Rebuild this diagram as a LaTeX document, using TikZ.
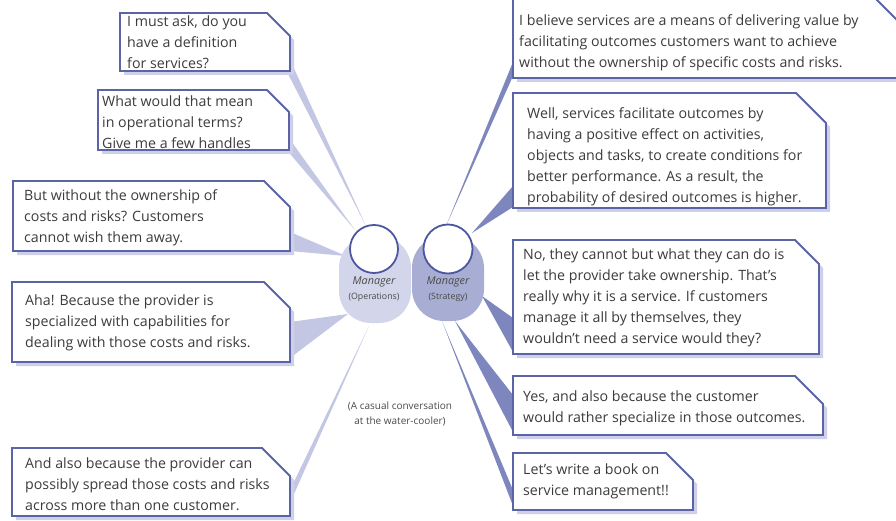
\documentclass[tikz,border=0pt]{standalone}
\usepackage{fontspec}
\setmainfont{Open Sans}
\begin{document}
\begin{tikzpicture}[x=1pt,y=-1pt,
  frame/.style={draw=boxline,line width=1.8pt,fill=white,line join=miter},
  shade/.style={fill=shadowc},
  said/.style={anchor=north west,inner sep=0pt,align=left,text=talk,
    font=\fontsize{14.2}{21}\selectfont},
  opswedge/.style={fill=opsc},
  strwedge/.style={fill=strc},
  head/.style={draw=headline,line width=1.8pt,fill=white},
  role/.style={text=rolec,inner sep=0pt,font=\fontsize{10.8}{12}\selectfont\itshape},
  sub/.style={text=rolec,inner sep=0pt,font=\fontsize{8.8}{10}\selectfont},
  note/.style={text=rolec,inner sep=0pt,align=center,font=\fontsize{10}{14.5}\selectfont}]
\definecolor{boxline}{HTML}{5A64A6}
\definecolor{shadowc}{HTML}{CDD0E8}
\definecolor{talk}{HTML}{3C3C3C}
\definecolor{opsc}{HTML}{C3C7E3}
\definecolor{strc}{HTML}{7E86BE}
\definecolor{opsbody}{HTML}{D3D6EB}
\definecolor{strbody}{HTML}{A8ADD3}
\definecolor{headline}{HTML}{4C57A0}
\definecolor{rolec}{HTML}{4A4A4A}

\useasboundingbox (0,0) rectangle (896,521);
\clip (0,0) rectangle (896,521);

% speech bubble outline: left, top, right, bottom, chamfer
\newcommand\bubblepath[5]{(#1,#2) -- ({#3-#5},#2) -- (#3,{#2+#5}) -- (#3,#4) -- (#1,#4) -- cycle}
\newcommand\bubble[5]{%
  \fill[shade] [shift={(4,4)}] \bubblepath{#1}{#2}{#3}{#4}{#5};
  \draw[frame] \bubblepath{#1}{#2}{#3}{#4}{#5};}

% where the speakers stand
\coordinate (opsA) at (366,226);
\coordinate (opsB) at (355,230);
\coordinate (opsC) at (346,256);
\coordinate (opsD) at (348,314);
\coordinate (opsE) at (369,326);
\coordinate (strF) at (446,226);
\coordinate (strG) at (472,233);
\coordinate (strH) at (482,296);
\coordinate (strI) at (455,321);
\coordinate (strJ) at (442,321);

% speech tails of the operations manager
\fill[opswedge] (286,70) -- (292,64) -- (opsA) -- cycle;
\fill[opswedge] (285,148) -- (291,141) -- (opsB) -- cycle;
\fill[opswedge] (290,232) -- (290,251) -- (opsC) -- cycle;
\fill[opswedge] (290,322) -- (290,358) -- (opsD) -- cycle;
\fill[opswedge] (290,490) -- (290,503) -- (opsE) -- cycle;
% speech tails of the strategy manager
\fill[strwedge] (513,62) -- (513,76) -- (strF) -- cycle;
\fill[strwedge] (513,186) -- (513,207) -- (strG) -- cycle;
\fill[strwedge] (513,318) -- (513,352) -- (strH) -- cycle;
\fill[strwedge] (513,395) -- (513,432) -- (strI) -- cycle;
\fill[strwedge] (513,490) -- (513,506) -- (strJ) -- cycle;

% the two managers
\fill[opsbody,rounded corners=32] (339,236) rectangle (411,323);
\fill[strbody,rounded corners=32] (412,236) rectangle (484,321);
\draw[head] (374,249) circle (24);
\draw[head] (448,249) circle (24.5);
\node[role] (m1) at (374,282) {Manager};
\node[sub]  (o1) at (374,297) {(Operations)};
\node[role] (m2) at (448,282) {Manager};
\node[sub]  (s2) at (448,297) {(Strategy)};
\node[note] (cap) at (400,414) {(A casual conversation\\at the water-cooler)};

% bubbles of the operations manager
\bubble{120}{13}{290}{71}{23}
\node[said] (tA) at (127,{26-14.7}) {\strut I must ask, do you\\have a definition\\for services?};
\bubble{98}{90}{289}{150}{22}
\node[said] (tB) at (102,{106-14.7}) {\strut What would that mean\\in operational terms?\\Give me a few handles};
\bubble{13}{181}{290}{251}{26}
\node[said] (tC) at (24,{200-14.7}) {\strut But without the ownership of\\costs and risks? Customers\\cannot wish them away.};
\bubble{12}{282}{290}{362}{26}
\node[said] (tD) at (25,{305-14.7}) {\strut Aha! Because the provider is\\specialized with capabilities for\\dealing with those costs and risks.};
\bubble{12}{448}{290}{516}{28}
\node[said] (tE) at (25,{468-14.7}) {\strut And also because the provider can\\possibly spread those costs and risks\\across more than one customer.};

% bubbles of the strategy manager
\bubble{513}{-3}{906}{78}{32}
\node[said] (tF) at (519,{25-14.7}) {\strut I believe services are a means of delivering value by\\facilitating outcomes customers want to achieve\\without the ownership of specific costs and risks.};
\bubble{513}{93}{826}{208}{30}
\node[said] (tG) at (527,{118-14.7}) {\strut Well, services facilitate outcomes by\\having a positive effect on activities,\\objects and tasks, to create conditions for\\better performance. As a result, the\\probability of desired outcomes is higher.};
\bubble{513}{240}{819}{354}{24}
\node[said] (tH) at (523,{259-14.7}) {\strut No, they cannot but what they can do is\\let the provider take ownership. That's\\really why it is a service. If customers\\manage it all by themselves, they\\wouldn't need a service would they?};
\bubble{513}{376}{823}{435}{28}
\node[said] (tI) at (523,{401-14.7}) {\strut Yes, and also because the customer\\would rather specialize in those outcomes.};
\bubble{513}{453}{693}{510}{27}
\node[said] (tJ) at (523,{474-14.7}) {\strut Let's write a book on\\service management!!};
\end{tikzpicture}
\end{document}
